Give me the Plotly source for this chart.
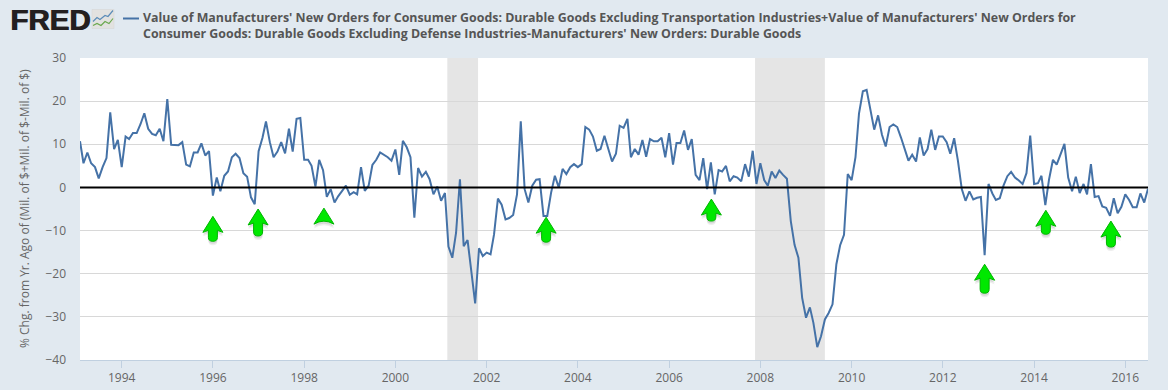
import pandas as pd
import plotly.graph_objects as go

START = "1993-02-01"
END = "2016-07-01"
v1993 = [10.7, 5.6, 8.1, 5.6, 4.7, 2.1, 4.7, 6.8, 17.4, 8.9, 11.0]
v1994 = [4.7, 11.8, 11.2, 12.6, 12.6, 14.7, 17.2, 13.6, 12.4, 12.1, 13.6, 10.7]
v1995 = [20.5, 9.9, 9.9, 9.8, 10.5, 5.3, 4.9, 8.1, 8.1, 10.2, 7.4, 8.4]
v1996 = [-1.9, 2.3, -0.9, 2.7, 3.7, 7.0, 7.8, 6.8, 3.3, 2.5, -2.3, -3.9]
v1997 = [8.4, 11.5, 15.3, 10.5, 7.0, 8.3, 10.5, 7.9, 13.6, 8.3, 15.9, 16.1]
v1998 = [6.4, 6.4, 5.0, 0.2, 6.4, 4.0, -2.2, -0.4, -3.5, -2.0, -0.8, 0.4]
v1999 = [-1.7, -1.1, -1.6, 4.7, -0.8, 0.4, 5.2, 6.4, 8.1, 7.6, 7.0, 6.2]
v2000 = [8.8, 2.9, 10.8, 9.3, 7.0, -7.0, 4.5, 2.5, 3.6, 1.9, -1.6, 0.2]
v2001 = [-3.1, -1.3, -13.7, -16.3, -10.5, 1.9, -13.6, -12.2, -19.8, -26.9, -14.1, -15.9]
v2002 = [-15.1, -15.5, -10.9, -2.6, -4.0, -7.4, -7.1, -6.4, -1.6, 15.3, -0.4, -3.5]
v2003 = [0.4, 1.8, 1.9, -6.6, -6.6, -1.2, 2.7, 0.0, 4.3, 3.1, 4.7, 5.4]
v2004 = [4.7, 5.4, 14.0, 13.4, 11.8, 8.5, 8.9, 12.0, 8.9, 6.0, 7.8, 14.3]
v2005 = [13.8, 15.9, 7.0, 8.9, 7.6, 11.0, 7.1, 11.2, 10.7, 10.7, 11.5, 7.0]
v2006 = [12.6, 5.3, 10.3, 10.3, 13.2, 8.7, 11.2, 2.9, 1.7, 6.8, -0.4, 5.8]
v2007 = [-1.6, 4.0, 3.7, 5.0, 1.4, 2.6, 2.3, 1.4, 5.4, 2.5, 8.5, 0.8]
v2008 = [5.6, 1.7, 0.4, 3.7, 2.2, 3.9, 2.9, 2.0, -7.8, -13.3, -16.3, -25.6]
v2009 = [-30.2, -27.8, -31.4, -37.0, -34.5, -30.6, -29.1, -27.1, -17.8, -13.4, -11.0, 3.1]
v2010 = [1.7, 7.0, 17.1, 22.3, 22.6, 18.0, 13.4, 16.7, 12.2, 9.5, 14.0, 14.6]
v2011 = [14.0, 11.5, 8.7, 6.2, 7.6, 6.0, 11.6, 7.4, 8.9, 13.4, 8.7, 11.8]
v2012 = [11.8, 10.5, 7.8, 11.4, 6.2, -0.4, -3.1, -0.9, -2.8, -2.4, -2.2, -15.7]
v2013 = [0.8, -1.4, -2.9, -2.5, 0.4, 2.6, 3.6, 2.3, 1.6, 0.8, 3.3, 12.0]
v2014 = [0.8, 1.0, 2.7, -4.1, 1.9, 6.4, 5.3, 7.8, 10.1, 2.3, -0.9, 2.5]
v2015 = [-1.3, 0.8, -1.6, 5.4, -2.2, -2.0, -4.4, -4.7, -6.6, -2.5, -6.0, -4.5]
v2016 = [-1.6, -2.9, -4.6, -4.6, -1.4, -3.5, -0.3]
values = (v1993 + v1994 + v1995 + v1996 + v1997 + v1998 + v1999 + v2000 + v2001 + v2002 + v2003 + v2004
          + v2005 + v2006 + v2007 + v2008 + v2009 + v2010 + v2011 + v2012 + v2013 + v2014 + v2015 + v2016)
dates = pd.date_range(START, periods=len(values), freq="MS")

recessions = [("2001-02-20", "2001-10-24"), ("2007-11-20", "2009-06-01")]
arrow_dates = ["1996-01-01", "1996-12-28", "1998-06-08", "2003-04-22", "2006-12-05", "2012-12-01", "2014-04-05", "2015-09-08"]
arrow_tips = [-6.7, -5.0, -4.8, -6.9, -2.7, -17.8, -5.3, -7.8]
arrow_lens = [25, 27, 17, 25, 22, 29, 24, 26]

title = ("Value of Manufacturers' New Orders for Consumer Goods: Durable Goods Excluding Transportation Industries+Value of Manufacturers' New Orders for<br>"
         "Consumer Goods: Durable Goods Excluding Defense Industries-Manufacturers' New Orders: Durable Goods")
y_title = "% Chg. from Yr. Ago of (Mil. of $+Mil. of $-Mil. of $)"

fig = go.Figure(go.Scatter(x=dates, y=values, mode="lines", line=dict(color="#4572a7", width=2), hoverinfo="skip"))

shapes = []
for a, b in recessions:
    shapes.append(dict(type="rect", xref="x", yref="paper", x0=a, x1=b, y0=0, y1=1,
                       fillcolor="#e5e5e5", line_width=0, layer="below"))
shapes.append(dict(type="line", xref="paper", yref="y", x0=0, x1=1, y0=0, y1=0,
                   line=dict(color="#000000", width=2), layer="above"))


def arrow_path(length, dy=0):
    hh = 16
    if length > hh + 2:
        return (f"M 0,{dy} L 10,{-hh+dy} Q 7,{-hh+1+dy} 4.5,{-hh+2+dy} "
                f"L 4.5,{-length+4+dy} Q 4.5,{-length+dy} 0,{-length+dy} "
                f"Q -4.5,{-length+dy} -4.5,{-length+4+dy} L -4.5,{-hh+2+dy} "
                f"Q -7,{-hh+1+dy} -10,{-hh+dy} Z")
    return f"M 0,{dy} L 10,{-hh+dy} Q 0,{-hh+6+dy} -10,{-hh+dy} Z"


for d, t, n in zip(arrow_dates, arrow_tips, arrow_lens):
    for off, op in [(-4, 0.10), (-2.5, 0.14)]:
        shapes.append(dict(type="path", xref="x", yref="y", xsizemode="pixel", ysizemode="pixel",
                           xanchor=d, yanchor=t, path=arrow_path(n, off), fillcolor="#555555",
                           opacity=op, line_width=0, layer="above"))
    shapes.append(dict(type="path", xref="x", yref="y", xsizemode="pixel", ysizemode="pixel",
                       xanchor=d, yanchor=t, path=arrow_path(n), fillcolor="#00e800",
                       line=dict(color="#00b400", width=1), layer="above"))

# FRED logo icon, placed in pixels relative to the plot's top-left corner
IX, IY = -80, 57.5
def px(x, y):
    return f"{x+IX},{IY-y}"
shapes.append(dict(type="path", xref="paper", yref="paper", xsizemode="pixel", ysizemode="pixel", xanchor=0, yanchor=1,
                   path=f"M {px(92,9)} L {px(114,9)} L {px(114,28)} L {px(92,28)} Z",
                   fillcolor="#e2e2e0", line=dict(color="#d4d4d4", width=0.5)))
shapes.append(dict(type="path", xref="paper", yref="paper", xsizemode="pixel", ysizemode="pixel", xanchor=0, yanchor=1,
                   path=f"M {px(93,21)} L {px(97,17)} L {px(100,19)} L {px(105,15)} L {px(108,16)} L {px(113,10)}",
                   line=dict(color="#5b8cb8", width=1.2)))
shapes.append(dict(type="path", xref="paper", yref="paper", xsizemode="pixel", ysizemode="pixel", xanchor=0, yanchor=1,
                   path=f"M {px(93,25)} L {px(97,23)} L {px(101,25)} L {px(105,21)} L {px(109,23)} L {px(113,18)}",
                   line=dict(color="#6aa84f", width=1.2)))
# legend key
shapes.append(dict(type="line", xref="paper", yref="paper", xsizemode="pixel", ysizemode="pixel", xanchor=0, yanchor=1,
                   x0=123+IX, x1=139+IX, y0=IY-18, y1=IY-18, line=dict(color="#4572a7", width=2)))

annotations = [
    dict(text=title, xref="paper", yref="paper", x=0, y=1, xshift=61, yshift=51.5, xanchor="left", yanchor="top",
         align="left", showarrow=False, font=dict(family="Open Sans", size=12.4, color="#555555", weight="bold")),
    dict(text="FRED", xref="paper", yref="paper", x=0, y=1, xshift=-72, yshift=57, xanchor="left", yanchor="top",
         showarrow=False, font=dict(family="Liberation Sans", size=29.5, color="#231f20", weight="bold",
                                    shadow="1px 0 0 #231f20")),
    dict(text=y_title, xref="paper", yref="paper", x=0, y=0.5, xshift=-56, yshift=0, xanchor="center", yanchor="middle",
         textangle=-90, showarrow=False, font=dict(family="Open Sans", size=12, color="#666666")),
]

fig.update_layout(
    width=1168, height=390, autosize=False, showlegend=False,
    margin=dict(l=80, r=20, t=57.5, b=30),
    paper_bgcolor="#e1e9f0", plot_bgcolor="#ffffff",
    font=dict(family="Open Sans", size=12, color="#666666"),
    shapes=shapes, annotations=annotations,
    xaxis=dict(type="date", range=[START, END], tick0="1994-01-01", dtick="M24", tickformat="%Y",
               automargin=False, showgrid=False, showline=True, linecolor="#c0d0e0", linewidth=1,
               ticks="outside", ticklen=7, tickcolor="#c0d0e0", tickwidth=1, zeroline=False,
               tickfont=dict(size=12, color="#666666")),
    yaxis=dict(range=[-40, 30], tick0=-40, dtick=10, showgrid=True, gridcolor="#d8d8d8", gridwidth=1,
               automargin=False, zeroline=False, showline=False, ticks="", ticklabelstandoff=13,
               tickfont=dict(size=12, color="#666666")),
)
fig.write_html("out.html", config=dict(displayModeBar=False),
               post_script="document.body.style.margin='0';document.body.style.overflow='hidden';")
